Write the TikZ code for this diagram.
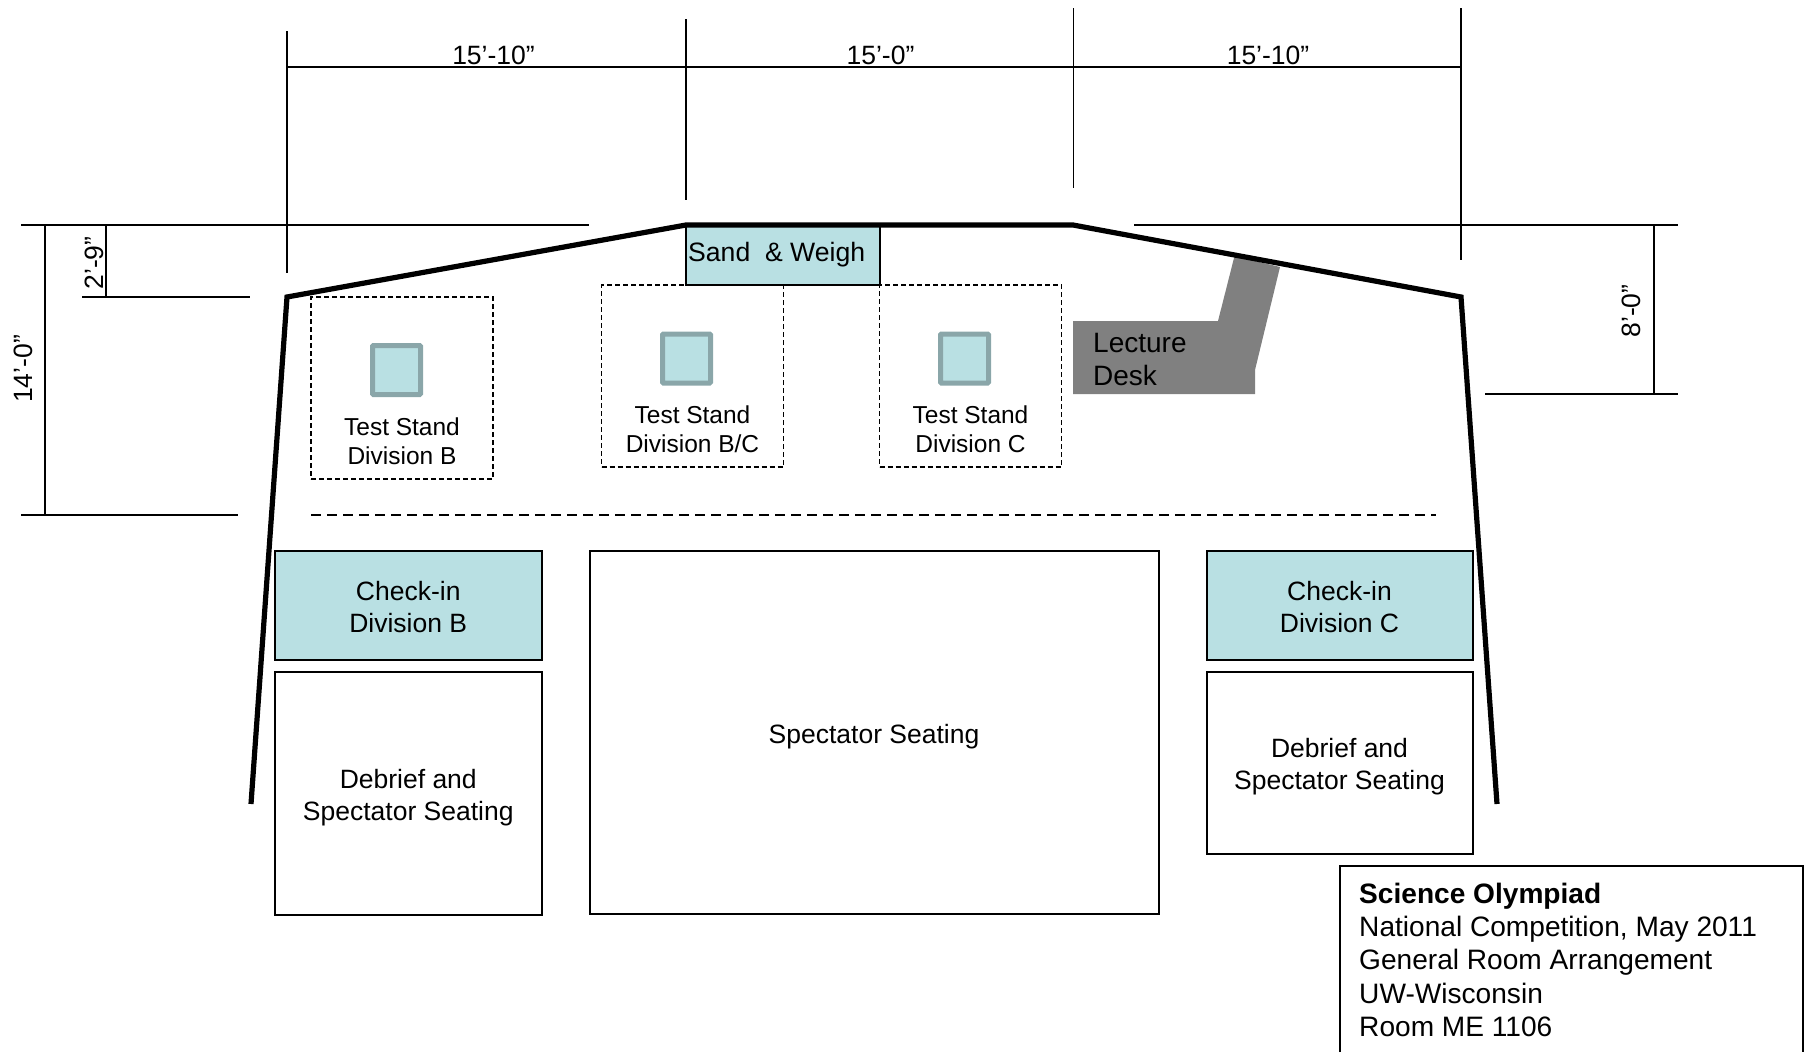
\documentclass[tikz,border=0pt]{standalone}
\usepackage{fontspec}
\setmainfont{Liberation Sans}
\usepackage{tikz}
\definecolor{standfill}{HTML}{B9E0E3}
\definecolor{standedge}{HTML}{8AA6A9}
\definecolor{deskfill}{HTML}{808080}
\tikzset{
  wall/.style={line width=5.2pt,line cap=butt,line join=miter},
  dimline/.style={line width=1.8pt},
  areabox/.style={draw,line width=2pt,anchor=north west,inner sep=0pt,outer sep=0pt},
  checkbox/.style={areabox,fill=standfill},
  areatext/.style={align=center,inner sep=0pt,font=\fontsize{26.5}{32}\selectfont},
  zonebox/.style={draw,line width=1.8pt,dash pattern=on 5pt off 3pt,anchor=north west,inner sep=0pt,outer sep=0pt,minimum width=182pt},
  standbox/.style={draw=standedge,fill=standfill,line width=5pt,rounded corners=1pt,inner sep=0pt,minimum width=48pt,minimum height=49pt},
  standlabel/.style={align=center,inner sep=0pt,font=\fontsize{24.5}{29}\selectfont},
  dimlabel/.style={inner sep=0pt,font=\fontsize{26.5}{30}\selectfont}
}
\begin{document}
\begin{tikzpicture}[x=1pt,y=-1pt]
    \useasboundingbox (0,0) rectangle (1804,1052);

    \coordinate (dimAtop) at (287,31);
    \coordinate (dimAbot) at (287,273);
    \coordinate (dimBtop) at (686,19);
    \coordinate (dimBbot) at (686,200);
    \coordinate (dimCtop) at (1073.5,8);
    \coordinate (dimCbot) at (1073.5,188);
    \coordinate (dimDtop) at (1461,8);
    \coordinate (dimDbot) at (1461,260);
    \coordinate (rowA) at (287,67);
    \coordinate (rowD) at (1461,67);
    \coordinate (leftA) at (21,225);
    \coordinate (leftB) at (589,225);
    \coordinate (rightA) at (1134,225);
    \coordinate (rightB) at (1678,225);
    \coordinate (nineA) at (106,225);
    \coordinate (nineB) at (106,297);
    \coordinate (nineL) at (82,297);
    \coordinate (nineR) at (250,297);
    \coordinate (fourA) at (45,225);
    \coordinate (fourB) at (45,515);
    \coordinate (fourL) at (21,515);
    \coordinate (fourR) at (238,515);
    \coordinate (eightA) at (1654,225);
    \coordinate (eightB) at (1654,394);
    \coordinate (eightL) at (1485,394);
    \coordinate (eightR) at (1678,394);
    \coordinate (aisleL) at (311,515);
    \coordinate (aisleR) at (1436,515);

    \path[dimline,draw]
    (dimAtop) -- (dimAbot)
    (dimBtop) -- (dimBbot)
    (dimCtop) -- (dimCbot)
    (dimDtop) -- (dimDbot)
    (rowA) -- (rowD)
    (leftA) -- (leftB)
    (rightA) -- (rightB)
    (nineA) -- (nineB)
    (nineL) -- (nineR)
    (fourA) -- (fourB)
    (fourL) -- (fourR)
    (eightA) -- (eightB)
    (eightL) -- (eightR);

    \node (widthA) [dimlabel] at (493.5,55) {15’-10”};
    \node (widthB) [dimlabel] at (880.5,55) {15’-0”};
    \node (widthC) [dimlabel] at (1268,55) {15’-10”};
    \node (depthA) [dimlabel,rotate=90] at (23,369) {14’-0”};
    \node (depthB) [dimlabel,rotate=90] at (94,263) {2’-9”};
    \node (depthC) [dimlabel,rotate=90] at (1631,311) {8’-0”};

    \node (sand) [draw,fill=standfill,line width=2pt,anchor=north west,inner sep=0pt,outer sep=0pt,minimum width=193.5pt,minimum height=60pt] at (686,225) {};
    \node (sandtext) [anchor=west,inner sep=0pt,font=\fontsize{26.6}{32}\selectfont] at (688,254.5) {Sand\ \ \& Weigh};

    \fill[deskfill] (1073,321) -- (1218,321) -- (1234.5,256) -- (1280,267) -- (1255,370) -- (1255,394) -- (1073,394) -- cycle;
    \node (desk) [anchor=west,align=left,inner sep=0pt,font=\fontsize{28}{33}\selectfont] at (1093,359) {Lecture\\Desk};

    \draw[wall] (251,804) -- (287,297) -- (686,225) -- (1073,225) -- (1461,297) -- (1497,804);

    \node (zoneB) [zonebox,minimum height=182pt] at (311,297) {};
    \node (zoneBC) [zonebox,minimum height=182pt] at (601.5,285) {};
    \node (zoneC) [zonebox,minimum height=182pt] at (879.5,285) {};

    \node (standB) [standbox] at (396.5,370) {};
    \node (standBC) [standbox] at (686.5,358.5) {};
    \node (standC) [standbox] at (964.5,358.5) {};

    \node (textB) [standlabel] at (402,441) {Test Stand\\Division B};
    \node (textBC) [standlabel] at (692.5,429) {Test Stand\\Division B/C};
    \node (textC) [standlabel] at (970.5,429) {Test Stand\\Division C};

    \draw[dimline,dash pattern=on 10pt off 6pt] (aisleL) -- (aisleR);

    \node (checkB) [checkbox,minimum width=266.5pt,minimum height=109pt] at (275,551) {};
    \node (seatB) [areabox,minimum width=266.5pt,minimum height=242.5pt] at (275,672) {};
    \node (seatMid) [areabox,minimum width=569pt,minimum height=363pt] at (589.5,551) {};
    \node (checkC) [checkbox,minimum width=266pt,minimum height=109pt] at (1206.5,551) {};
    \node (seatC) [areabox,minimum width=266pt,minimum height=182pt] at (1206.5,672) {};

    \node (checkBtext) [areatext,yshift=-2pt] at (checkB) {Check-in\\Division B};
    \node (seatBtext) [areatext,yshift=-4pt] at (seatB) {Debrief and\\Spectator Seating};
    \node (seatMidtext) [areatext,yshift=-4pt] at (seatMid) {Spectator Seating};
    \node (checkCtext) [areatext,yshift=-2pt] at (checkC) {Check-in\\Division C};
    \node (seatCtext) [areatext,yshift=-4pt] at (seatC) {Debrief and\\Spectator Seating};

    \coordinate (titleBL) at (1339.5,1052);
    \coordinate (titleTL) at (1339.5,866);
    \coordinate (titleTR) at (1803,866);
    \coordinate (titleBR) at (1803,1052);
    \draw[line width=2pt] (titleBL) -- (titleTL) -- (titleTR) -- (titleBR);
    \node (title) [anchor=north west,align=left,inner sep=0pt,font=\fontsize{28.1}{33.2}\selectfont] at (1359,883) {\textbf{Science Olympiad}\\National Competition, May 2011\\General Room Arrangement\\UW-Wisconsin\\Room ME 1106};
\end{tikzpicture}
\end{document}
